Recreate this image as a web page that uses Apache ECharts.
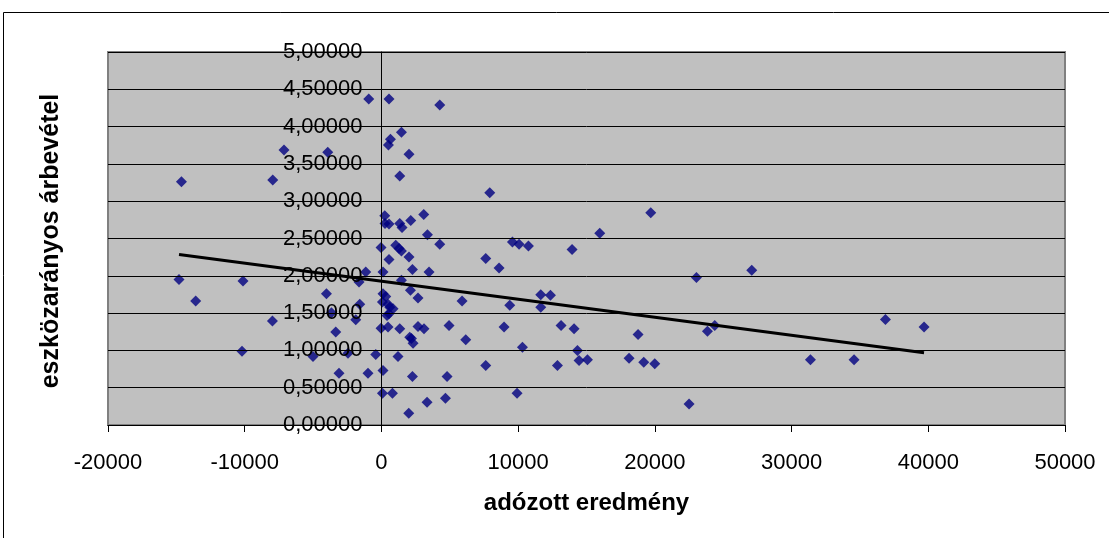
<!DOCTYPE html>
<html>
<head>
<meta charset="utf-8">
<script src="https://cdn.jsdelivr.net/npm/echarts@6/dist/echarts.min.js"></script>
<style>
  html, body { margin: 0; padding: 0; background: #fff; }
  #chart { width: 1109px; height: 538px; }
</style>
</head>
<body>
<div id="chart"></div>
<script>
// adózott eredmény (x) vs. eszközarányos árbevétel (y)
const points = [
  [-929, 4.37], [556, 4.37], [4265, 4.29], [-7125, 3.687], [-3928, 3.656],
  [-14630, 3.26], [-7951, 3.284], [1463, 3.925], [658, 3.83], [512, 3.754],
  [2019, 3.629], [1339, 3.337], [7922, 3.113], [241, 2.804], [263, 2.70],
  [556, 2.695], [1339, 2.70], [1507, 2.648], [2143, 2.742], [3094, 2.823],
  [3365, 2.55], [4265, 2.423], [9583, 2.454], [15970, 2.57], [-29, 2.379],
  [1046, 2.41], [1288, 2.366], [1463, 2.333], [2019, 2.253], [556, 2.218],
  [7630, 2.231], [8603, 2.105], [10066, 2.423], [10753, 2.40], [13943, 2.352],
  [-1148, 2.051], [117, 2.051], [2268, 2.083], [3482, 2.051], [-1638, 1.917],
  [1463, 1.94], [2121, 1.805], [2677, 1.702], [315, 1.724], [73, 1.648],
  [483, 1.617], [849, 1.559], [556, 1.492], [117, 1.76], [607, 1.58],
  [410, 1.469], [5896, 1.662], [9385, 1.604], [11653, 1.747], [12362, 1.738],
  [11653, 1.58], [-29, 1.298], [483, 1.312], [1339, 1.29], [2677, 1.321],
  [3116, 1.29], [4945, 1.335], [2070, 1.177], [2312, 1.097], [2195, 1.16],
  [6167, 1.142], [8969, 1.312], [10314, 1.043], [13138, 1.335], [14089, 1.29],
  [14337, 0.999], [14455, 0.864], [15069, 0.874], [12874, 0.797], [7630, 0.797],
  [-417, 0.945], [1214, 0.918], [-980, 0.694], [117, 0.73], [2268, 0.649],
  [4799, 0.649], [73, 0.425], [805, 0.425], [9919, 0.425], [3336, 0.304],
  [4682, 0.358], [1997, 0.156], [-14805, 1.949], [-10124, 1.93], [-13584, 1.661],
  [-7973, 1.393], [-10197, 0.99], [-4023, 1.761], [-3657, 1.505], [-3343, 1.245],
  [-1880, 1.411], [-1587, 1.617], [-5003, 0.918], [-2443, 0.962], [-3102, 0.694],
  [19700, 2.844], [23042, 1.976], [27088, 2.074], [18771, 1.214], [18113, 0.895],
  [19188, 0.842], [19992, 0.82], [22501, 0.282], [23846, 1.258], [24380, 1.335],
  [31381, 0.874], [34571, 0.874], [36867, 1.415], [39691, 1.312]
];

// linear trend line end points
const trendLine = [[-14805, 2.285], [39691, 0.968]];

const xRange = { min: -20000, max: 50000, step: 10000 };
const yRange = { min: 0, max: 5, step: 0.5 };

const xTitle = 'adózott eredmény';
const yTitle = 'eszközarányos árbevétel';

const FONT = '"Liberation Sans", Arial, sans-serif';

// plot rectangle
const GRID = { left: 108, right: 44, top: 52, bottom: 113 };
const CHART_W = 1109;
const plotW = CHART_W - GRID.left - GRID.right;
// the value axis crosses the horizontal axis at x = 0
const yAxisShift = (0 - xRange.min) / (xRange.max - xRange.min) * plotW;

const chart = echarts.init(document.getElementById('chart'), null, { renderer: 'canvas' });

chart.setOption({
  animation: false,
  backgroundColor: '#ffffff',
  graphic: [
    {
      type: 'rect',
      shape: { x: 3.5, y: 12.5, width: 1300, height: 700 },
      style: { fill: 'none', stroke: '#000', lineWidth: 1 },
      z: 0, silent: true
    },
    {
      type: 'text',
      x: 51, y: 241,
      rotation: Math.PI / 2,
      style: {
        text: yTitle,
        font: 'bold 25px ' + FONT,
        fill: '#000',
        textAlign: 'center',
        textVerticalAlign: 'middle'
      },
      z: 10, silent: true
    }
  ],
  grid: {
    left: GRID.left, right: GRID.right, top: GRID.top, bottom: GRID.bottom,
    show: true,
    backgroundColor: '#C0C0C0',
    borderColor: '#808080',
    borderWidth: 2
  },
  xAxis: {
    type: 'value',
    min: xRange.min, max: xRange.max, interval: xRange.step,
    name: xTitle,
    nameLocation: 'middle',
    nameGap: 66,
    nameTextStyle: { fontFamily: FONT, fontWeight: 'bold', fontSize: 24, color: '#000' },
    axisLine: { show: true, onZero: false, lineStyle: { color: '#000', width: 1 } },
    axisTick: { show: true, length: 7, inside: false, lineStyle: { color: '#000' } },
    axisLabel: {
      fontFamily: FONT, fontSize: 22, color: '#000', margin: 27,
      formatter: v => String(v)
    },
    splitLine: { show: false }
  },
  yAxis: {
    type: 'value',
    min: yRange.min, max: yRange.max, interval: yRange.step,
    offset: -yAxisShift,
    axisLine: { show: true, onZero: false, lineStyle: { color: '#000', width: 1 } },
    axisTick: { show: true, length: 5, inside: false, lineStyle: { color: '#000' } },
    axisLabel: {
      fontFamily: FONT, fontSize: 22, color: '#000', margin: 19,
      formatter: v => v.toFixed(5).replace('.', ',')
    },
    splitLine: { show: true, lineStyle: { color: '#000', width: 1 } },
    z: 5
  },
  series: [
    {
      type: 'scatter',
      data: points,
      symbol: 'diamond',
      symbolSize: 11,
      itemStyle: { color: '#000080' },
      z: 3
    },
    {
      type: 'line',
      data: trendLine,
      symbol: 'none',
      lineStyle: { color: '#000', width: 3 },
      z: 4
    }
  ]
});
</script>
</body>
</html>
